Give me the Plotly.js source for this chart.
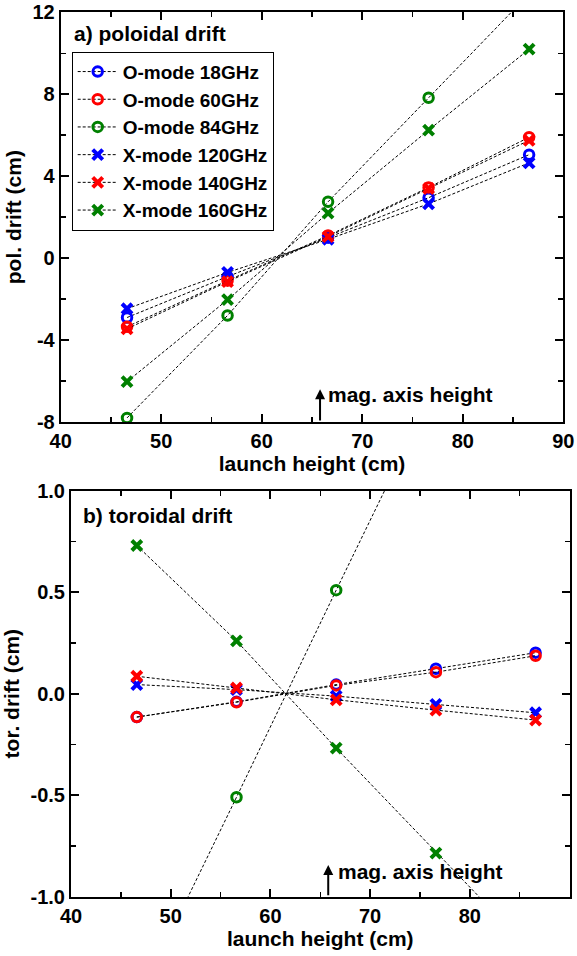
<!DOCTYPE html>
<html>
<head>
<meta charset="utf-8">
<script src="https://cdn.plot.ly/plotly-3.0.1.min.js"></script>
<style>html,body{margin:0;padding:0;background:#fff;}#chart{width:577px;height:956px;}</style>
</head>
<body>
<div id="chart"></div>
<script>
// ---- data ----
const launchHeight = [46.6, 56.6, 66.6, 76.6, 86.6];
const seriesNames = ['O-mode 18GHz', 'O-mode 60GHz', 'O-mode 84GHz', 'X-mode 120GHz', 'X-mode 140GHz', 'X-mode 160GHz'];
// poloidal drift (cm)
const polO18  = [-2.9, -0.9, 1.0, 2.95, 5.05];
const polO60  = [-3.35, -1.1, 1.1, 3.45, 5.9];
const polO84  = [-7.8, -2.8, 2.75, 7.83, 12.9];
const polX120 = [-2.47, -0.7, 0.92, 2.65, 4.65];
const polX140 = [-3.45, -1.15, 1.05, 3.4, 5.75];
const polX160 = [-6.03, -2.03, 2.2, 6.25, 10.2];
// toroidal drift (cm)
const torO18  = [-0.115, -0.04, 0.045, 0.123, 0.202];
const torO60  = [-0.115, -0.042, 0.041, 0.106, 0.187];
const torO84  = [-1.52, -0.51, 0.51, 1.52, null];
const torX120 = [0.045, 0.02, -0.012, -0.053, -0.094];
const torX140 = [0.086, 0.028, -0.03, -0.081, -0.13];
const torX160 = [0.73, 0.26, -0.268, -0.785, -1.29];
const magAxisHeight = 65.8;
// tick labels
const xTickVals = [40, 50, 60, 70, 80, 90];
const xTickText = ['40', '50', '60', '70', '80', '90'];
const polTickVals = [-8, -4, 0, 4, 8, 12];
const polTickText = ['-8', '-4', '0', '4', '8', '12'];
const torTickVals = [-1, -0.5, 0, 0.5, 1];
const torTickText = ['-1.0', '-0.5', '0.0', '0.5', '1.0'];

// ---- styles ----
const FONT = 'Liberation Sans, Arial, sans-serif';
const colors = ['#0000ff', '#ff0000', '#008000', '#0000ff', '#ff0000', '#008000'];
const symbols = ['circle-open', 'circle-open', 'circle-open', 'x-thin-open', 'x-thin-open', 'x-thin-open'];
const polSeries = [polO18, polO60, polO84, polX120, polX140, polX160];
const torSeries = [torO18, torO60, torO84, torX120, torX140, torX160];

function mk(i, ys, xa, ya, showleg) {
  const isX = symbols[i].startsWith('x');
  return {
    type: 'scatter', mode: 'lines+markers',
    x: launchHeight, y: ys, xaxis: xa, yaxis: ya,
    name: seriesNames[i], showlegend: showleg, legendgroup: 'g' + i,
    connectgaps: false, cliponaxis: true,
    line: {color: '#000', width: 1, dash: '3px,2px'},
    marker: {symbol: symbols[i], size: isX ? 10 : 9.5, color: colors[i],
             line: {color: colors[i], width: isX ? 4 : 3}}
  };
}
const traces = [];
polSeries.forEach((s, i) => traces.push(mk(i, s, 'x', 'y', true)));
torSeries.forEach((s, i) => traces.push(mk(i, s, 'x2', 'y2', false)));

const W = 577, H = 956;
const tickFont = {family: FONT, size: 20, color: '#000', weight: 'bold'};
const titleFont = {family: FONT, size: 21, color: '#000', weight: 'bold'};
function xAxis(domain, anchor) {
  return {
    domain: domain, anchor: anchor, range: [40, 90],
    tickmode: 'array', tickvals: xTickVals, ticktext: xTickText,
    ticks: 'inside', ticklen: 8, tickwidth: 2, tickcolor: '#000',
    minor: {dtick: 5, tick0: 0, ticks: 'inside', ticklen: 5, tickwidth: 1.5, tickcolor: '#000'},
    showline: true, linecolor: '#000', linewidth: 2, mirror: 'allticks',
    showgrid: false, zeroline: false, tickfont: tickFont,
    title: {text: 'launch height (cm)', font: titleFont, standoff: 2},
    automargin: false, fixedrange: true
  };
}
function yAxis(domain, anchor, range, vals, text, minorDt, title) {
  return {
    domain: domain, anchor: anchor, range: range,
    tickmode: 'array', tickvals: vals, ticktext: text,
    ticks: 'inside', ticklen: 8, tickwidth: 2, tickcolor: '#000',
    minor: {dtick: minorDt, tick0: 0, ticks: 'inside', ticklen: 5, tickwidth: 1.5, tickcolor: '#000'},
    showline: true, linecolor: '#000', linewidth: 2, mirror: 'allticks',
    showgrid: false, zeroline: false, tickfont: tickFont,
    title: {text: title, font: titleFont, standoff: 5},
    automargin: false, fixedrange: true
  };
}

const annFont = {family: FONT, size: 21, color: '#000', weight: 'bold'};
const layout = {
  width: W, height: H,
  margin: {l: 0, r: 0, t: 0, b: 0},
  paper_bgcolor: '#fff', plot_bgcolor: '#fff',
  font: {family: FONT, color: '#000'},
  xaxis: xAxis([60.7 / W, 563.3 / W], 'y'),
  yaxis: yAxis([1 - 422 / H, 1 - 12.3 / H], 'x', [-8, 12], polTickVals, polTickText, 2, 'pol. drift (cm)'),
  xaxis2: xAxis([71 / W, 569.5 / W], 'y2'),
  yaxis2: yAxis([1 - 896.7 / H, 1 - 490.7 / H], 'x2', [-1, 1], torTickVals, torTickText, 0.25, 'tor. drift (cm)'),
  showlegend: true,
  legend: {
    x: 71.7 / W, y: 1 - 51.7 / H, xanchor: 'left', yanchor: 'top',
    bgcolor: '#fff', bordercolor: '#000', borderwidth: 1,
    font: {family: FONT, size: 19, color: '#000', weight: 'bold'},
    tracegroupgap: 0, itemwidth: 40
  },
  annotations: [
    {xref: 'x', yref: 'y', x: 41.1, y: 10.97, xanchor: 'left', yanchor: 'middle',
     text: 'a) poloidal drift', showarrow: false, font: annFont},
    {xref: 'x2', yref: 'y2', x: 41.0, y: 0.88, xanchor: 'left', yanchor: 'middle',
     text: 'b) toroidal drift', showarrow: false, font: annFont},
    {xref: 'x', yref: 'y', x: magAxisHeight, y: -6.4, ax: magAxisHeight, ay: -8,
     axref: 'x', ayref: 'y', text: '', showarrow: true, arrowhead: 2, arrowsize: 1,
     arrowwidth: 2, arrowcolor: '#000', standoff: 0, startstandoff: 0},
    {xref: 'x', yref: 'y', x: 66.4, y: -6.68, xanchor: 'left', yanchor: 'middle',
     text: 'mag. axis height', showarrow: false, font: annFont},
    {xref: 'x2', yref: 'y2', x: magAxisHeight, y: -0.844, ax: magAxisHeight, ay: -1,
     axref: 'x2', ayref: 'y2', text: '', showarrow: true, arrowhead: 2, arrowsize: 1,
     arrowwidth: 2, arrowcolor: '#000', standoff: 0, startstandoff: 0},
    {xref: 'x2', yref: 'y2', x: 66.6, y: -0.877, xanchor: 'left', yanchor: 'middle',
     text: 'mag. axis height', showarrow: false, font: annFont}
  ]
};

Plotly.newPlot('chart', traces, layout, {displayModeBar: false, staticPlot: true});
</script>
</body>
</html>
